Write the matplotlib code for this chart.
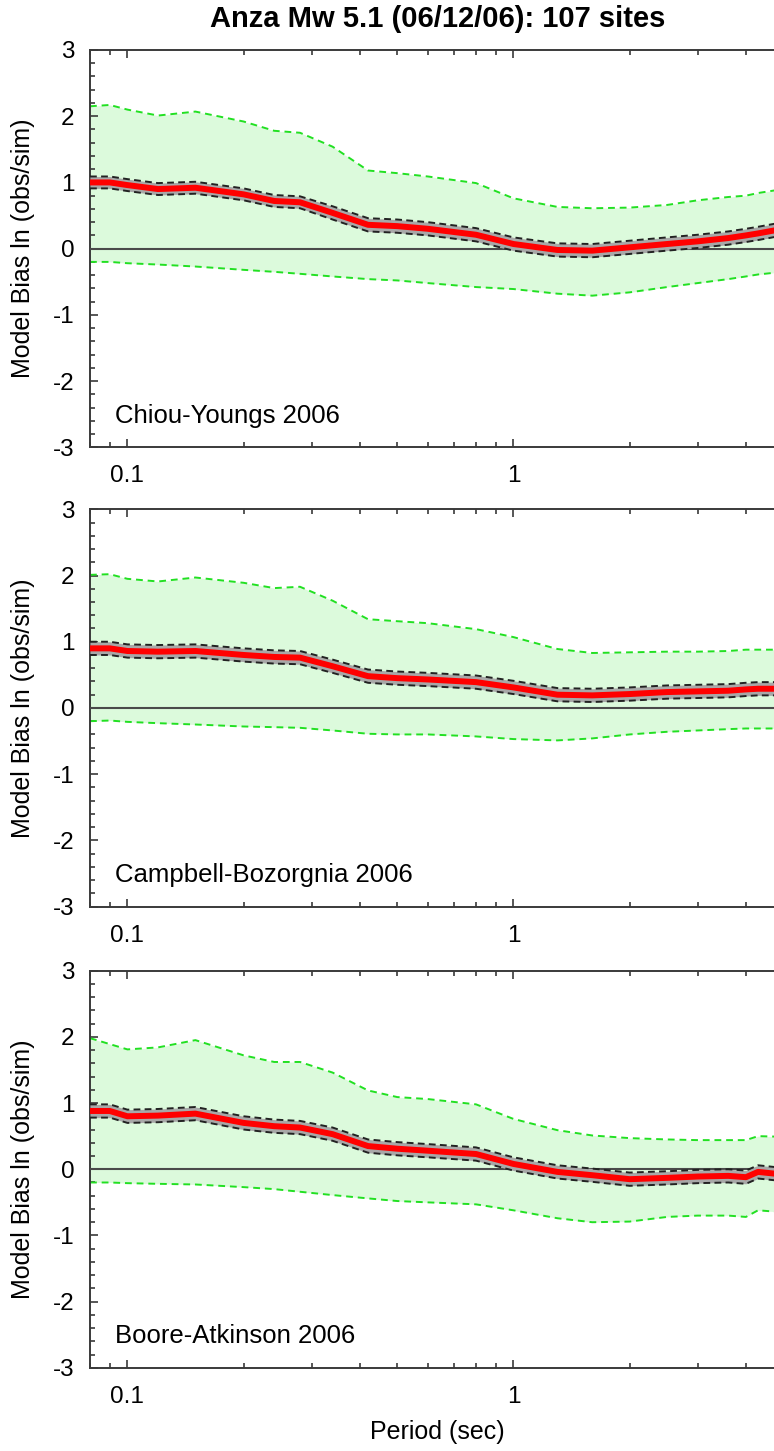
import matplotlib
matplotlib.use('Agg')
import matplotlib.pyplot as plt
import numpy as np

plt.rcParams['font.family'] = ['Liberation Sans', 'DejaVu Sans']

# spectral periods (sec) shared by all three models
periods = [0.08, 0.09, 0.10, 0.12, 0.15, 0.20, 0.24, 0.28, 0.34, 0.42, 0.50, 0.60,
           0.80, 1.0, 1.3, 1.6, 2.0, 2.5, 3.0, 3.6, 4.0, 4.3, 5.0]

models = ['Chiou-Youngs 2006', 'Campbell-Bozorgnia 2006', 'Boore-Atkinson 2006']

# mean ln(obs/sim) residual
cy_mean = [1.00, 1.00, 0.96, 0.90, 0.92, 0.82, 0.72, 0.70, 0.54, 0.36, 0.34, 0.30,
           0.21, 0.07, -0.02, -0.03, 0.02, 0.07, 0.11, 0.16, 0.20, 0.23, 0.30]
cb_mean = [0.90, 0.90, 0.86, 0.85, 0.86, 0.80, 0.77, 0.76, 0.63, 0.48, 0.45, 0.43,
           0.39, 0.31, 0.20, 0.19, 0.21, 0.24, 0.25, 0.26, 0.28, 0.29, 0.29]
ba_mean = [0.88, 0.88, 0.80, 0.81, 0.84, 0.70, 0.65, 0.63, 0.53, 0.35, 0.31, 0.28,
           0.23, 0.08, -0.04, -0.09, -0.15, -0.13, -0.11, -0.10, -0.12, -0.04, -0.08]

# 90% confidence half-width on the mean
cy_conf = [0.09, 0.09, 0.09, 0.09, 0.09, 0.09, 0.09, 0.09, 0.10, 0.10, 0.10, 0.10,
           0.10, 0.10, 0.10, 0.10, 0.10, 0.10, 0.10, 0.10, 0.10, 0.10, 0.10]
cb_conf = [0.10, 0.10, 0.10, 0.10, 0.10, 0.10, 0.10, 0.10, 0.10, 0.10, 0.10, 0.10,
           0.10, 0.10, 0.10, 0.10, 0.10, 0.10, 0.10, 0.10, 0.10, 0.10, 0.10]
ba_conf = [0.10, 0.10, 0.10, 0.10, 0.10, 0.10, 0.10, 0.10, 0.10, 0.10, 0.10, 0.10,
           0.10, 0.10, 0.10, 0.10, 0.10, 0.10, 0.10, 0.10, 0.10, 0.10, 0.10]

# mean +/- one standard deviation
cy_upper = [2.15, 2.17, 2.10, 2.01, 2.07, 1.92, 1.78, 1.75, 1.54, 1.18, 1.14, 1.09,
            0.99, 0.76, 0.63, 0.61, 0.62, 0.66, 0.73, 0.78, 0.80, 0.84, 0.90]
cy_lower = [-0.20, -0.20, -0.22, -0.24, -0.27, -0.32, -0.35, -0.38, -0.42, -0.46, -0.48, -0.52,
            -0.58, -0.61, -0.68, -0.71, -0.66, -0.58, -0.52, -0.46, -0.42, -0.39, -0.35]
cb_upper = [2.01, 2.02, 1.95, 1.91, 1.97, 1.89, 1.81, 1.83, 1.62, 1.34, 1.31, 1.28,
            1.19, 1.07, 0.89, 0.83, 0.84, 0.85, 0.85, 0.86, 0.88, 0.88, 0.88]
cb_lower = [-0.20, -0.19, -0.21, -0.23, -0.25, -0.28, -0.29, -0.30, -0.34, -0.39, -0.40, -0.40,
            -0.43, -0.47, -0.49, -0.46, -0.40, -0.36, -0.34, -0.32, -0.31, -0.31, -0.31]
ba_upper = [1.98, 1.89, 1.81, 1.84, 1.95, 1.72, 1.62, 1.62, 1.46, 1.19, 1.09, 1.06,
            0.98, 0.76, 0.59, 0.51, 0.47, 0.45, 0.44, 0.44, 0.44, 0.50, 0.49]
ba_lower = [-0.20, -0.20, -0.21, -0.22, -0.23, -0.27, -0.30, -0.34, -0.39, -0.44, -0.48, -0.50,
            -0.53, -0.62, -0.74, -0.80, -0.79, -0.72, -0.70, -0.70, -0.72, -0.62, -0.65]

means = [cy_mean, cb_mean, ba_mean]
confs = [cy_conf, cb_conf, ba_conf]
uppers = [cy_upper, cb_upper, ba_upper]
lowers = [cy_lower, cb_lower, ba_lower]

W, H = 774, 1451
fig = plt.figure(figsize=(W / 100, H / 100), dpi=100)

ax_left = 90
ax_h = 397.3
tops = [50, 509.3, 970.6]
spine_col = '#3a3a3a'

T = np.array(periods)
for i in range(3):
    ax = fig.add_axes([ax_left / W, 1 - (tops[i] + ax_h) / H, (W - ax_left) / W, ax_h / H])
    m = np.array(means[i])
    c = np.array(confs[i])
    up = np.array(uppers[i])
    lo = np.array(lowers[i])

    # +/- sigma band
    ax.fill_between(T, lo, up, color='#dcfadc', lw=0, zorder=1)
    ax.plot(T, up, color='#22e022', lw=1.4, dashes=(3.5, 2.5), zorder=2)
    ax.plot(T, lo, color='#22e022', lw=1.4, dashes=(3.5, 2.5), zorder=2)
    ax.axhline(0, color='#4a4a4a', lw=1.5, zorder=3)

    # confidence interval of the mean + mean bias
    ax.fill_between(T, m - c, m + c, color='#a8a8a8', lw=0, zorder=4)
    ax.plot(T, m + c, color='#222222', lw=1.4, dashes=(3.5, 2.2), zorder=5)
    ax.plot(T, m - c, color='#222222', lw=1.4, dashes=(3.5, 2.2), zorder=5)
    ax.plot(T, m, color='#ff0000', lw=4.3, solid_capstyle='butt', zorder=6)

    ax.set_xscale('log')
    ax.set_xlim(0.08, 4.73)
    ax.set_ylim(-3, 3)
    ax.set_yticks(np.arange(-3, 4, 1))
    ax.set_yticklabels([str(v) for v in range(-3, 4)])
    ax.yaxis.set_minor_locator(matplotlib.ticker.MultipleLocator(0.2))
    ax.xaxis.set_major_locator(matplotlib.ticker.FixedLocator([0.1, 1, 10]))
    ax.xaxis.set_major_formatter(matplotlib.ticker.FixedFormatter(['0.1', '1', '10']))
    ax.xaxis.set_minor_formatter(matplotlib.ticker.NullFormatter())

    for s in ['left', 'bottom', 'top']:
        ax.spines[s].set_color(spine_col)
        ax.spines[s].set_linewidth(1.4)
    ax.spines['right'].set_visible(False)

    ax.tick_params(which='both', direction='in', top=True, right=False,
                   color=spine_col, width=1.2, labelsize=17.5, labelcolor='black')
    ax.tick_params(which='major', length=6)
    ax.tick_params(which='minor', length=3.5)
    ax.tick_params(axis='y', pad=11)
    ax.tick_params(axis='x', pad=13)

    ax.text(-0.098, 0.5, 'Model Bias ln (obs/sim)', rotation=90, ha='center', va='center',
            fontsize=18, transform=ax.transAxes)
    ax.text(0.0365, 0.08, models[i], ha='left', va='center', fontsize=18.5,
            transform=ax.transAxes)

fig.text(437.5 / W, 1 - 19 / H, 'Anza Mw 5.1 (06/12/06): 107 sites', ha='center', va='center',
         fontsize=21, fontweight='bold')
fig.text(437 / W, 1 - 1432 / H, 'Period (sec)', ha='center', va='center', fontsize=18)

fig.savefig('out.png', dpi=100)
